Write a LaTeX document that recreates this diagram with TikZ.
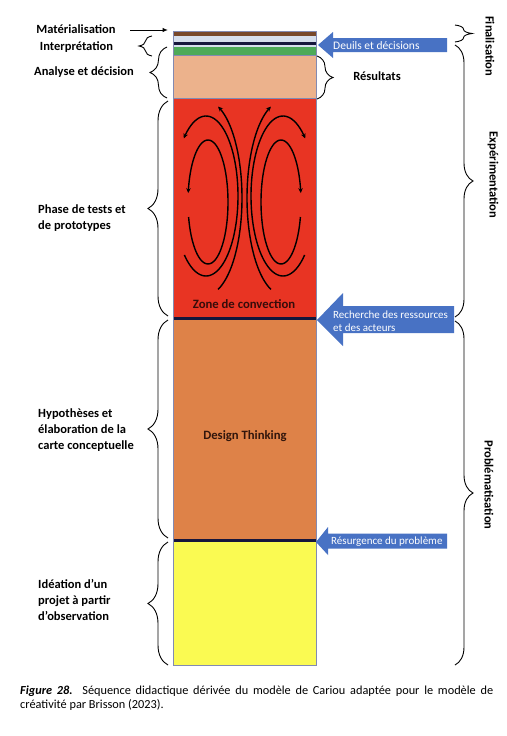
\documentclass[tikz,border=0pt]{standalone}
\usepackage{fontspec}
\setmainfont{Carlito}
\usetikzlibrary{decorations.pathreplacing,arrows.meta}
\definecolor{cbrown}{RGB}{120,72,42}
\definecolor{clight}{RGB}{214,222,236}
\definecolor{cgreen}{RGB}{78,170,88}
\definecolor{cpeach}{RGB}{236,178,140}
\definecolor{cred}{RGB}{232,52,35}
\definecolor{corange}{RGB}{222,130,72}
\definecolor{cyellow}{RGB}{250,250,82}
\definecolor{cnavy}{RGB}{22,22,60}
\definecolor{cborder}{RGB}{130,138,178}
\definecolor{ablue}{RGB}{72,114,196}
\begin{document}
\begin{tikzpicture}[x=1pt,y=-1pt,
  lbl/.style={font=\bfseries\fontsize{12.5}{16}\selectfont, inner sep=0pt},
  lbll/.style={lbl, align=left, anchor=west},
  brc/.style={decorate, decoration={brace, amplitude=#1}, line width=0.9pt},
  conv/.style={line width=1.4pt, -{Stealth[length=5pt, width=4.5pt]}},
  wtxt/.style={text=white, font=\fontsize{11}{13}\selectfont, inner sep=0pt, anchor=west, align=left},
  barrow/.style={fill=ablue}]
\useasboundingbox (0,0) rectangle (506,736);
\fill[white] (0,0) rectangle (506,736);

% ---- column layers
\fill[cbrown] (173,31) rectangle (316,36);
\fill[clight] (173,36) rectangle (316,42);
\fill[cnavy] (173,42) rectangle (316,45);
\fill[clight] (173,45) rectangle (316,46.5);
\fill[cgreen] (173,46.5) rectangle (316,55.5);
\fill[cpeach] (173,56) rectangle (316,98.5);
\fill[cred] (173,99) rectangle (316,317);
\fill[cnavy] (173,317) rectangle (316,320);
\fill[corange] (173,320) rectangle (316,539);
\fill[cnavy] (173,539) rectangle (316,541.5);
\fill[cyellow] (173,541.5) rectangle (316,665);
\draw[cborder, line width=0.7pt] (173,55.7) -- (316,55.7);
\draw[cborder, line width=0.7pt] (173,98.8) -- (316,98.8);
\draw[cborder, line width=0.8pt] (173,31) rectangle (316,665);

% ---- convection cells (left)
\draw[conv] plot[domain=-166:171.7, samples=70, smooth, variable=\t] ({208+20*cos(-\t)},{202+62*sin(-\t)});
\draw[conv] plot[domain=-132.5:134, samples=70, smooth, variable=\t] ({206+32*cos(-\t)},{196+80*sin(-\t)});
\draw[conv] plot[domain=-70.5:70.5, samples=40, smooth, variable=\t] ({206+36*cos(-\t)},{198+97*sin(-\t)});
% ---- convection cells (right)
\draw[conv] plot[domain=14:351.7, samples=70, smooth, variable=\t] ({281+20*cos(\t)},{202+62*sin(\t)});
\draw[conv] plot[domain=47.5:314, samples=70, smooth, variable=\t] ({283+32*cos(\t)},{196+80*sin(\t)});
\draw[conv] plot[domain=109.5:250.5, samples=40, smooth, variable=\t] ({283+36*cos(\t)},{198+97*sin(\t)});

\node[lbl, font=\bfseries\fontsize{12.7}{14}\selectfont, text={rgb,255:red,55;green,12;blue,10}] (zone) at (244,304) {Zone de convection};
\node[lbl, font=\bfseries\fontsize{12.7}{14}\selectfont, text={rgb,255:red,50;green,22;blue,12}] (dt) at (245,436) {Design Thinking};

% ---- left labels
\node[lbl] (mat) at (76,29) {Matérialisation};
\node[lbl] (int) at (76.5,47) {Interprétation};
\node[lbl] (ana) at (84,72) {Analyse et décision};
\node[lbll] (pha) at (38,218.5) {Phase de tests et\\de prototypes};
\node[lbll] (hyp) at (38,430) {Hypothèses et\\élaboration de la\\carte conceptuelle};
\node[lbll] (ide) at (38,600) {Idéation d’un\\projet à partir\\d’observation};

\coordinate (ms) at (130,30); \coordinate (me) at (168,30);
\draw[line width=1pt, -{Latex[length=5.5pt, width=4.5pt]}] (ms) -- (me);

% left braces (bottom -> top : tip to the west)
\coordinate (i1) at (152,56); \coordinate (i2) at (152,36);
\draw[brc=13] (i1) -- (i2);
\coordinate (a1) at (167,98); \coordinate (a2) at (167,47);
\draw[brc=17] (a1) -- (a2);
\coordinate (p1) at (168,316); \coordinate (p2) at (168,101);
\draw[brc=20] (p1) -- (p2);
\coordinate (h1) at (168,538); \coordinate (h2) at (168,320);
\draw[brc=20] (h1) -- (h2);
\coordinate (d1) at (168,665); \coordinate (d2) at (168,542);
\draw[brc=20] (d1) -- (d2);

% ---- right side
\coordinate (r1) at (317,56); \coordinate (r2) at (317,99);
\draw[brc=16] (r1) -- (r2);
\node[lbl] (res) at (377,76) {Résultats};

\coordinate (f1) at (455,25); \coordinate (f2) at (455,42);
\draw[brc=17] (f1) -- (f2);
\coordinate (e1) at (455,45); \coordinate (e2) at (455,317);
\draw[brc=18] (e1) -- (e2);
\coordinate (q1) at (455,321); \coordinate (q2) at (455,665);
\draw[brc=18] (q1) -- (q2);
\node[lbl, rotate=-90] (fin) at (490,46) {Finalisation};
\node[lbl, rotate=-90] (exp) at (493,175) {Expérimentation};
\node[lbl, rotate=-90] (pro) at (489,485) {Problématisation};

% block arrows
\fill[barrow] (318,45) -- (333,32) -- (333,38) -- (447,38) -- (447,52) -- (333,52) -- (333,58) -- cycle;
\node[wtxt, font=\fontsize{11.5}{13}\selectfont] (deu) at (333,45.5) {Deuils et décisions};
\fill[barrow] (317,320) -- (343,293) -- (343,306) -- (454,306) -- (454,333) -- (343,333) -- (343,346) -- cycle;
\node[wtxt] (rec) at (333,321.5) {Recherche des ressources\\et des acteurs};
\fill[barrow] (316,542) -- (328,527) -- (328,533.5) -- (447,533.5) -- (447,548.5) -- (328,548.5) -- (328,555) -- cycle;
\node[wtxt] (resu) at (331,541.5) {Résurgence du problème};

% ---- caption
\node[anchor=north west, inner sep=0pt, text width=473pt, align=justify, font=\fontsize{12.3}{13.5}\selectfont] (cap) at (20,686)
 {\textbf{\textit{Figure 28.}} Séquence didactique dérivée du modèle de Cariou adaptée pour le modèle de\linebreak créativité par Brisson (2023).};
\end{tikzpicture}
\end{document}
